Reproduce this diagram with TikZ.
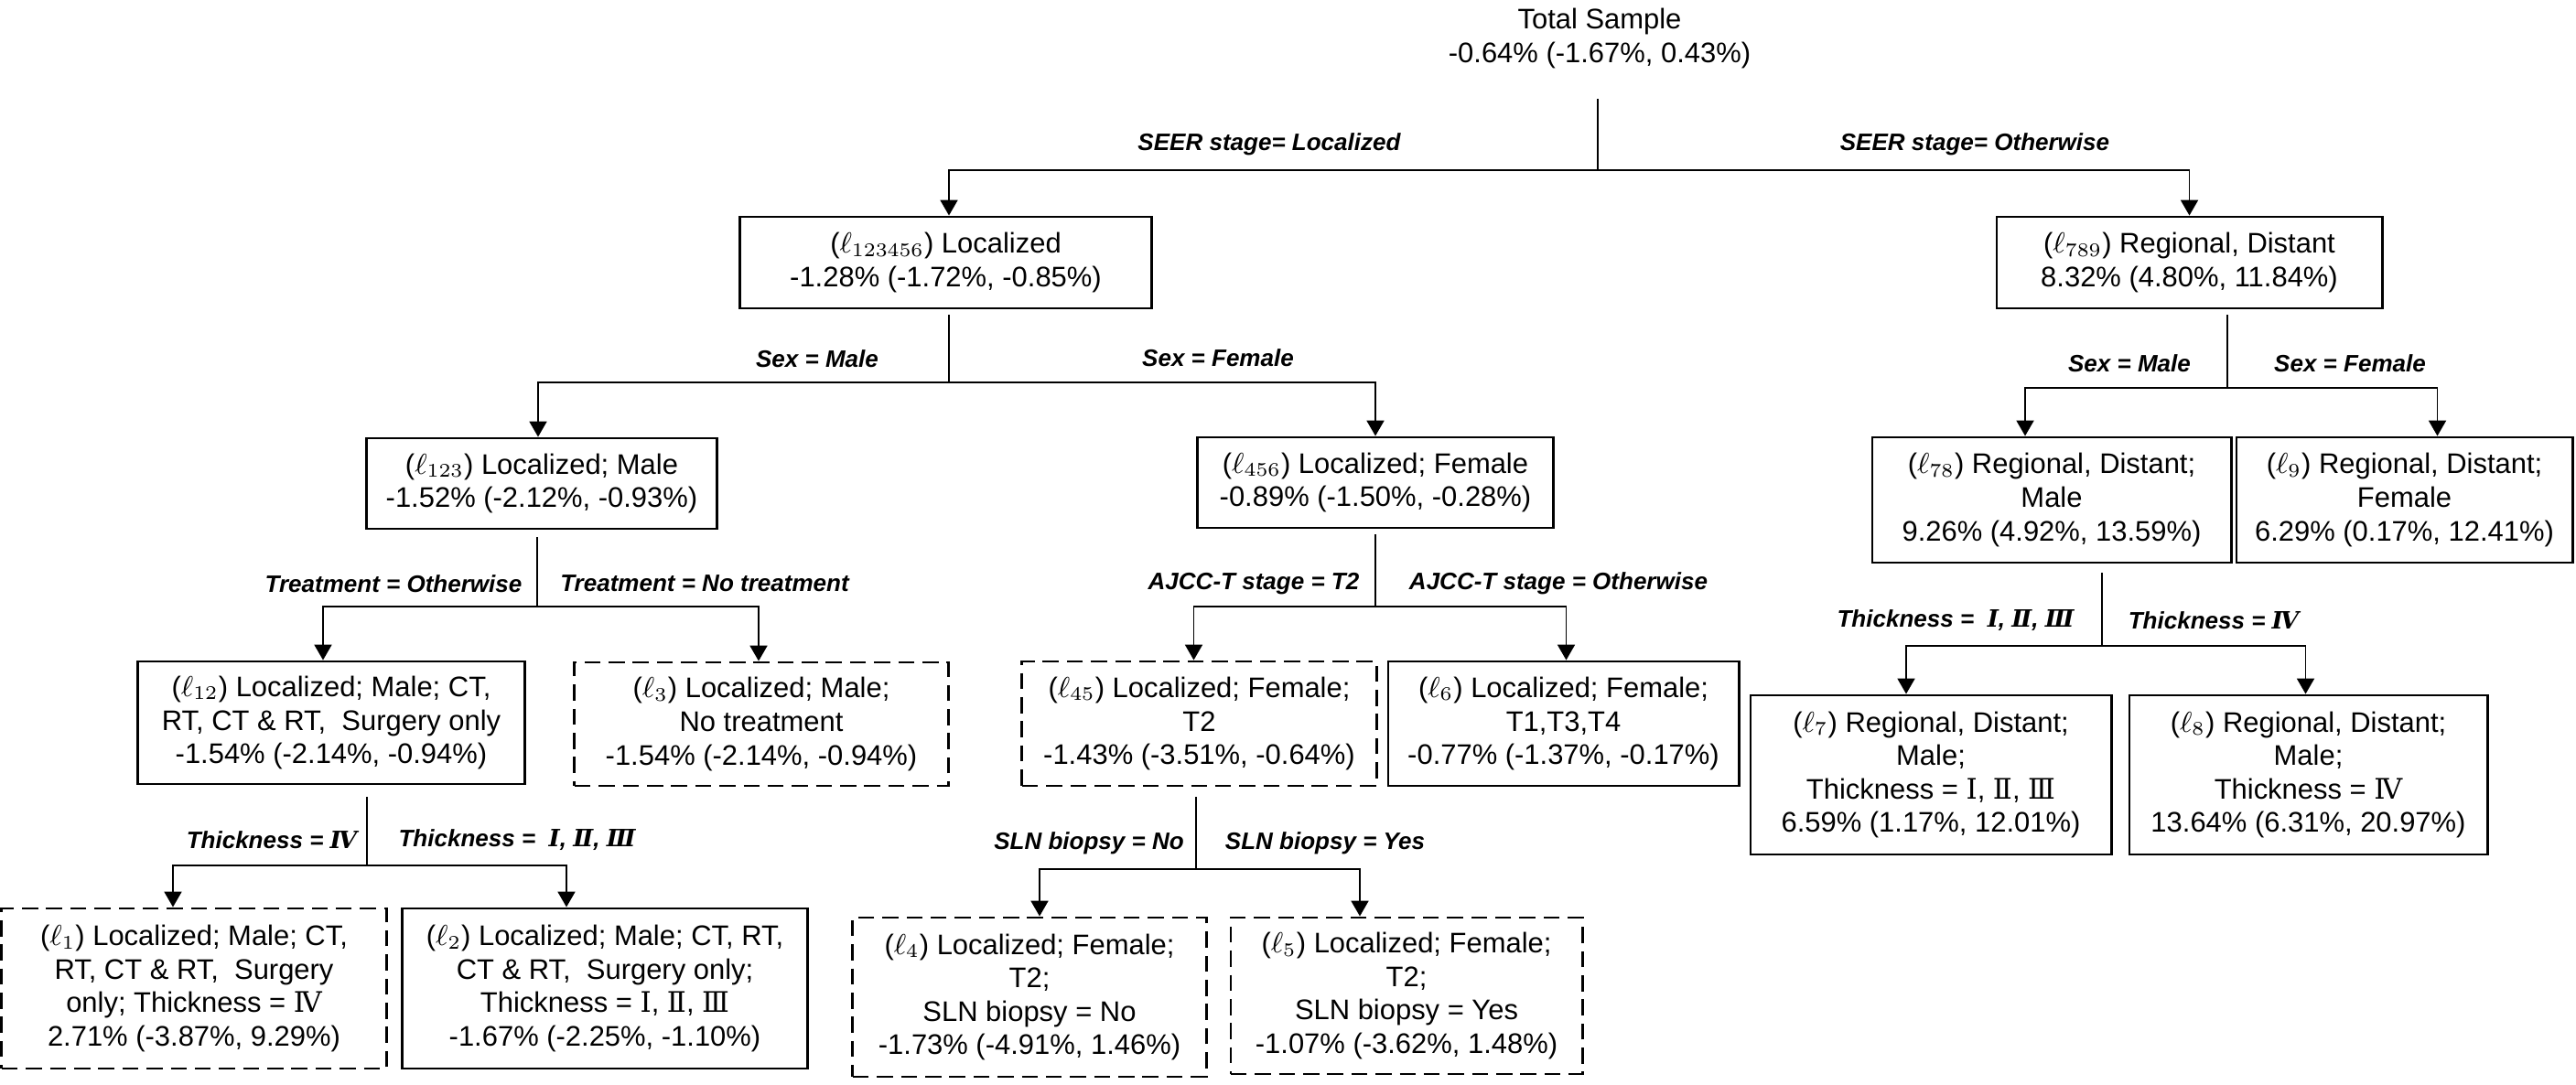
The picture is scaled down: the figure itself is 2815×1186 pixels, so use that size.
\documentclass[tikz,border=0pt]{standalone}
\usepackage{fontspec}
\setmainfont{Liberation Sans}
\newfontfamily\rnumfont{DejaVu Serif}
\usetikzlibrary{positioning, arrows.meta, calc}
\newcommand{\rnum}[1]{{\rnumfont #1}}

\begin{document}
\begin{tikzpicture}[
    x=0.01cm, y=-0.01cm, % one unit = one pixel of the figure, y downwards
    box/.style={ % Style for the subgroup boxes
        rectangle,
        draw=black,
        line width=0.8pt,
        align=center,
        inner sep=0pt,
        font=\fontsize{8.8}{10.4}\selectfont
    },
    % Dashed boxes for the subgroups drawn with a broken border
    dashbox/.style={box, dash pattern=on 5pt off 2.5pt},
    % Split conditions written beside the stems
    cond/.style={font=\fontsize{7.4}{9}\selectfont\bfseries\itshape, inner sep=1pt},
    % Connectors
    link/.style={line width=0.5pt},
    arrow/.style={link, -{Triangle[width=5.4pt, length=4.8pt]}}
]
\useasboundingbox (0,0) rectangle (2815,1186);

% Root
\node[font=\fontsize{8.8}{10.4}\selectfont, align=center] (total) at (1748,42) {Total Sample\\-0.64\% (-1.67\%, 0.43\%)};

% First split: SEER stage
\node[box, minimum width=4.49cm, minimum height=1.00cm] (l123456) at (1033.5,287) {($\ell_{123456}$) Localized\\-1.28\% (-1.72\%, -0.85\%)};
\node[box, minimum width=4.21cm, minimum height=1.00cm] (l789) at (2392.5,287) {($\ell_{789}$) Regional, Distant\\8.32\% (4.80\%, 11.84\%)};

% Second split: Sex
\node[box, minimum width=3.82cm, minimum height=0.99cm] (l123) at (592,528.5) {($\ell_{123}$) Localized; Male\\-1.52\% (-2.12\%, -0.93\%)};
\node[box, minimum width=3.88cm, minimum height=0.99cm] (l456) at (1503,527.5) {($\ell_{456}$) Localized; Female\\-0.89\% (-1.50\%, -0.28\%)};
\node[box, minimum width=3.92cm, minimum height=1.37cm] (l78) at (2242,546.5) {($\ell_{78}$) Regional, Distant;\\Male\\9.26\% (4.92\%, 13.59\%)};
\node[box, minimum width=3.67cm, minimum height=1.37cm] (l9) at (2627.5,546.5) {($\ell_{9}$) Regional, Distant;\\Female\\6.29\% (0.17\%, 12.41\%)};

% Third split: Treatment, AJCC-T stage, Thickness
\node[box, minimum width=4.22cm, minimum height=1.34cm] (l12) at (362,790) {($\ell_{12}$) Localized; Male; CT,\\RT, CT \& RT,\ \ Surgery only\\-1.54\% (-2.14\%, -0.94\%)};
\node[dashbox, minimum width=4.08cm, minimum height=1.35cm] (l3) at (832,791.5) {($\ell_{3}$) Localized; Male;\\No treatment\\-1.54\% (-2.14\%, -0.94\%)};
\node[dashbox, minimum width=3.87cm, minimum height=1.36cm] (l45) at (1310.5,791) {($\ell_{45}$) Localized; Female;\\T2\\-1.43\% (-3.51\%, -0.64\%)};
\node[box, minimum width=3.83cm, minimum height=1.36cm] (l6) at (1708.5,791) {($\ell_{6}$) Localized; Female;\\T1,T3,T4\\-0.77\% (-1.37\%, -0.17\%)};
\node[box, minimum width=3.94cm, minimum height=1.74cm] (l7) at (2110,847) {($\ell_{7}$) Regional, Distant;\\Male;\\Thickness = \rnum{Ⅰ}, \rnum{Ⅱ}, \rnum{Ⅲ}\\6.59\% (1.17\%, 12.01\%)};
\node[box, minimum width=3.91cm, minimum height=1.74cm] (l8) at (2522.5,847) {($\ell_{8}$) Regional, Distant;\\Male;\\Thickness = \rnum{Ⅳ}\\13.64\% (6.31\%, 20.97\%)};

% Fourth split: Thickness, SLN biopsy
\node[dashbox, minimum width=4.20cm, minimum height=1.75cm] (l1) at (212,1080.5) {($\ell_{1}$) Localized; Male; CT,\\RT, CT \& RT,\ \ Surgery\\only; Thickness = \rnum{Ⅳ}\\2.71\% (-3.87\%, 9.29\%)};
\node[box, minimum width=4.42cm, minimum height=1.75cm] (l2) at (661,1080.5) {($\ell_{2}$) Localized; Male; CT, RT,\\CT \& RT,\ \ Surgery only;\\Thickness = \rnum{Ⅰ}, \rnum{Ⅱ}, \rnum{Ⅲ}\\-1.67\% (-2.25\%, -1.10\%)};
\node[dashbox, minimum width=3.86cm, minimum height=1.74cm] (l4) at (1125,1090) {($\ell_{4}$) Localized; Female;\\T2;\\SLN biopsy = No\\-1.73\% (-4.91\%, 1.46\%)};
\node[dashbox, minimum width=3.84cm, minimum height=1.71cm] (l5) at (1537,1088.5) {($\ell_{5}$) Localized; Female;\\T2;\\SLN biopsy = Yes\\-1.07\% (-3.62\%, 1.48\%)};

% Branch points
\coordinate (sroot) at (1746,186);
\coordinate (s123456) at (1037,418);
\coordinate (s789) at (2434,424);
\coordinate (s123) at (587,663);
\coordinate (s456) at (1503,663);
\coordinate (s78) at (2297,706);
\coordinate (s12) at (401,946);
\coordinate (s45) at (1307,950);

% Stems
\draw[link] ($(total.center)+(-2,66)$) -- (sroot);
\draw[link] ($(l123456.south -| s123456)+(0,6)$) -- (s123456);
\draw[link] ($(l789.south -| s789)+(0,6)$) -- (s789);
\draw[link] ($(l123.south -| s123)+(0,8)$) -- (s123);
\draw[link] ($(l456.south -| s456)+(0,6)$) -- (s456);
\draw[link] ($(l78.south -| s78)+(0,10)$) -- (s78);
\draw[link] ($(l12.south -| s12)+(0,13)$) -- (s12);
\draw[link] ($(l45.south -| s45)+(0,11)$) -- (s45);

% Arrows to the children
\draw[arrow] (sroot) -| ($(l123456.north)+(3.5,0)$);
\draw[arrow] (sroot) -| (l789.north);
\draw[arrow] (s123456) -| ($(l123.north)+(-4,0)$);
\draw[arrow] (s123456) -| (l456.north);
\draw[arrow] (s789) -| ($(l78.north)+(-29,0)$);
\draw[arrow] (s789) -| ($(l9.north)+(36,0)$);
\draw[arrow] (s123) -| ($(l12.north)+(-9,0)$);
\draw[arrow] (s123) -| ($(l3.north)+(-3,0)$);
\draw[arrow] (s456) -| ($(l45.north)+(-6,0)$);
\draw[arrow] (s456) -| ($(l6.north)+(3,0)$);
\draw[arrow] (s78) -| ($(l7.north)+(-27,0)$);
\draw[arrow] (s78) -| ($(l8.north)+(-3,0)$);
\draw[arrow] (s12) -| ($(l1.north)+(-23,0)$);
\draw[arrow] (s12) -| ($(l2.north)+(-42,0)$);
\draw[arrow] (s45) -| ($(l4.north)+(11,0)$);
\draw[arrow] (s45) -| ($(l5.north)+(-51,0)$);

% Split conditions
\node[cond] (c_loc) at (1387,158) {SEER stage= Localized};
\node[cond] (c_oth) at (2158,158) {SEER stage= Otherwise};
\node[cond] (c_male1) at (893,392) {Sex = Male};
\node[cond] (c_fem1) at (1331,391) {Sex = Female};
\node[cond] (c_male2) at (2327,397) {Sex = Male};
\node[cond] (c_fem2) at (2568,397) {Sex = Female};
\node[cond] (c_treat) at (430,638) {Treatment = Otherwise};
\node[cond] (c_notreat) at (770,638) {Treatment = No treatment};
\node[cond] (c_t2) at (1370,638) {AJCC-T stage = T2};
\node[cond] (c_tother) at (1703,638) {AJCC-T stage = Otherwise};
\node[cond] (c_thick1) at (2137,678) {Thickness = \ \rnum{Ⅰ}, \rnum{Ⅱ}, \rnum{Ⅲ}};
\node[cond] (c_thick2) at (2419,678) {Thickness = \rnum{Ⅳ}};
\node[cond] (c_thick3) at (297,918) {Thickness = \rnum{Ⅳ}};
\node[cond] (c_thick4) at (565,918) {Thickness = \ \rnum{Ⅰ}, \rnum{Ⅱ}, \rnum{Ⅲ}};
\node[cond] (c_slnno) at (1190,922) {SLN biopsy = No};
\node[cond] (c_slnyes) at (1448,922) {SLN biopsy = Yes};

\end{tikzpicture}
\end{document}
